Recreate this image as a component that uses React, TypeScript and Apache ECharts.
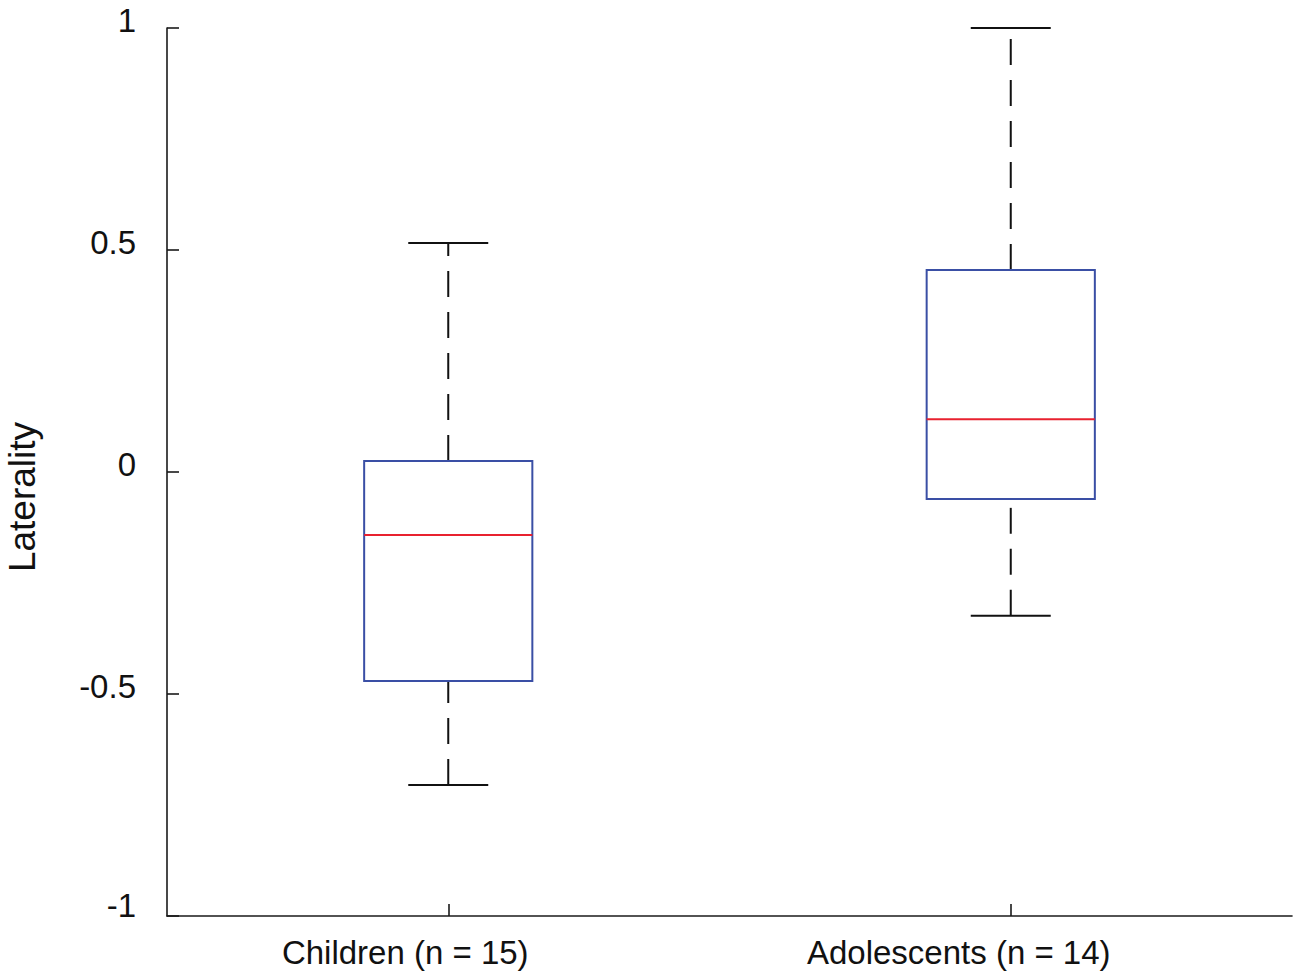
import React, { useEffect, useRef } from "react";
import * as echarts from "echarts";

const categories = ["Children (n = 15)", "Adolescents (n = 14)"];
const whiskerLow = [-0.705, -0.324];
const quartile1 = [-0.471, -0.061];
const medians = [-0.142, 0.119];
const quartile3 = [0.025, 0.455];
const whiskerHigh = [0.516, 1.0];
const yTicks = { min: -1, max: 1, interval: 0.5 };

const FONT = "'Liberation Sans', Arial, Helvetica, sans-serif";
const BOX_COLOR = "#3A4FA5";
const MEDIAN_COLOR = "#E8212F";

export default function App() {
  const ref = useRef<HTMLDivElement>(null);

  useEffect(() => {
    document.body.style.margin = "0";
    if (!ref.current) return;
    const chart = echarts.init(ref.current, undefined, { renderer: "svg" });

    const data = categories.map((_, i) => [
      i,
      whiskerLow[i],
      quartile1[i],
      medians[i],
      quartile3[i],
      whiskerHigh[i],
    ]);

    const labelText = { color: "#111", fontSize: 33, fontFamily: FONT };

    const option: any = {
      animation: false,
      backgroundColor: "#ffffff",
      grid: { left: 167, right: 8, top: 28, bottom: 62, containLabel: false },
      xAxis: {
        type: "category",
        data: categories,
        boundaryGap: true,
        axisLine: { show: true, onZero: false, lineStyle: { color: "#1a1a1a", width: 1.6 } },
        axisTick: {
          show: true,
          inside: true,
          length: 12,
          alignWithLabel: true,
          lineStyle: { color: "#1a1a1a", width: 1.6 },
        },
        axisLabel: {
          ...labelText,
          margin: 20,
          formatter: (value: string, index: number) => `{l${index}|${value}}`,
          rich: {
            l0: { ...labelText, padding: [0, 86, 0, 0] },
            l1: { ...labelText, padding: [0, 104, 0, 0] },
          },
        },
        splitLine: { show: false },
      },
      yAxis: {
        type: "value",
        min: yTicks.min,
        max: yTicks.max,
        interval: yTicks.interval,
        axisLine: { show: true, lineStyle: { color: "#1a1a1a", width: 1.6 } },
        axisTick: {
          show: true,
          inside: true,
          length: 12,
          lineStyle: { color: "#1a1a1a", width: 1.6 },
        },
        axisLabel: {
          ...labelText,
          margin: 31,
          formatter: (v: number) => (v === -1 ? `{b|${v}}` : `{a|${v}}`),
          rich: {
            a: { ...labelText, padding: [0, 0, 16, 0] },
            b: { ...labelText, padding: [0, 0, 22, 0] },
          },
        },
        splitLine: { show: false },
      },
      graphic: [
        {
          type: "text",
          x: 22,
          y: 497,
          rotation: Math.PI / 2,
          style: {
            text: "Laterality",
            fill: "#111",
            font: `37px ${FONT}`,
            textAlign: "center",
            textVerticalAlign: "middle",
          },
        },
      ],
      series: [
        {
          type: "custom",
          data,
          encode: { x: 0, y: [1, 2, 3, 4, 5] },
          renderItem: (params: any, api: any) => {
            const idx = api.value(0);
            const band = api.size([1, 0])[0];
            const boxHalf = band * 0.1495;
            const capHalf = band * 0.0711;
            const pLow = api.coord([idx, api.value(1)]);
            const pQ1 = api.coord([idx, api.value(2)]);
            const pMed = api.coord([idx, api.value(3)]);
            const pQ3 = api.coord([idx, api.value(4)]);
            const pHigh = api.coord([idx, api.value(5)]);
            const cx = pMed[0];
            const whiskerStyle = {
              stroke: "#111",
              lineWidth: 2,
              lineDash: [26, 15],
              fill: "none",
            };
            const solid = { stroke: "#111", lineWidth: 2 };
            return {
              type: "group",
              children: [
                {
                  type: "line",
                  shape: { x1: cx, y1: pLow[1], x2: cx, y2: pQ1[1] },
                  style: whiskerStyle,
                },
                {
                  type: "line",
                  shape: { x1: cx, y1: pQ3[1], x2: cx, y2: pHigh[1] },
                  style: whiskerStyle,
                },
                {
                  type: "line",
                  shape: { x1: cx - capHalf, y1: pLow[1], x2: cx + capHalf, y2: pLow[1] },
                  style: solid,
                },
                {
                  type: "line",
                  shape: { x1: cx - capHalf, y1: pHigh[1], x2: cx + capHalf, y2: pHigh[1] },
                  style: solid,
                },
                {
                  type: "rect",
                  shape: {
                    x: cx - boxHalf,
                    y: pQ3[1],
                    width: boxHalf * 2,
                    height: pQ1[1] - pQ3[1],
                  },
                  style: { fill: "none", stroke: BOX_COLOR, lineWidth: 2 },
                },
                {
                  type: "line",
                  shape: { x1: cx - boxHalf, y1: pMed[1], x2: cx + boxHalf, y2: pMed[1] },
                  style: { stroke: MEDIAN_COLOR, lineWidth: 2 },
                },
              ],
            };
          },
        },
      ],
    };

    chart.setOption(option);
    return () => chart.dispose();
  }, []);

  return <div ref={ref} style={{ width: 1300, height: 978 }} />;
}
